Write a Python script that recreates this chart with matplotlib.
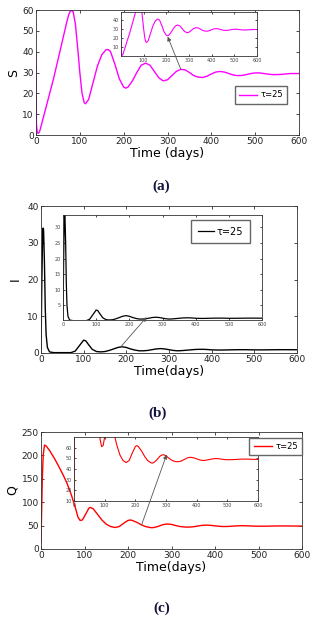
import matplotlib
matplotlib.use('Agg')
import numpy as np
import matplotlib.pyplot as plt
from matplotlib.patches import ConnectionPatch

# data
t_S = [0, 0.5, 1, 3, 5, 8, 10, 20, 30, 40, 50, 60, 70, 75, 80, 85, 90, 95, 100, 105, 110, 113,
       120, 130, 140, 150, 160, 165, 170, 180, 190, 200, 205, 210, 220, 230, 240, 250, 260, 270,
       280, 290, 300, 310, 320, 330, 340, 350, 360, 370, 380, 390, 400, 410, 420, 430, 440, 450,
       460, 470, 480, 490, 500, 510, 520, 530, 540, 550, 560, 570, 580, 590, 600]
S = [40, 20, 5, 1.2, 0.8, 1.5, 3, 11, 19, 27, 36, 45, 54, 58, 60, 59, 53, 42, 30, 20, 15.5, 15,
     17, 25, 33, 38.5, 41, 41, 40, 34, 27, 23, 22.5, 23, 26, 30, 33.5, 34.5, 33.5, 30.5,
     27.5, 26, 26.5, 28.5, 30.5, 31.5, 31.3, 30, 28.5, 27.8, 27.6, 28.2, 29.3, 30.2, 30.5, 30.2,
     29.5, 28.8, 28.5, 28.6, 29, 29.5, 29.8, 29.8, 29.5, 29.2, 29, 29, 29.1, 29.3, 29.5, 29.5, 29.5]

t_I = [0, 2, 4, 5, 6, 8, 10, 12, 15, 20, 30, 50, 70, 80, 90, 100, 105, 110, 120, 130, 140, 150,
       160, 170, 180, 190, 200, 210, 220, 230, 240, 250, 260, 270, 280, 290, 300, 310, 320, 330,
       340, 350, 360, 370, 380, 390, 400, 420, 440, 460, 480, 500, 520, 540, 560, 580, 600]
I = [1, 20, 33, 34, 33.5, 25, 12, 5, 1.5, 0.3, 0.1, 0.1, 0.1, 0.5, 2, 3.5, 3.3, 2.5, 1, 0.4, 0.3, 0.4,
     0.7, 1.1, 1.5, 1.7, 1.5, 1.1, 0.8, 0.6, 0.6, 0.7, 0.9, 1.1, 1.2, 1.1, 0.9, 0.7, 0.6, 0.65,
     0.75, 0.85, 0.95, 1.0, 1.0, 0.95, 0.85, 0.8, 0.85, 0.9, 0.9, 0.85, 0.85, 0.88, 0.9, 0.9, 0.88]

t_Q = [0, 1, 3, 5, 8, 12, 20, 30, 40, 50, 60, 70, 80, 85, 90, 95, 100, 110, 113, 120, 130, 140,
       150, 160, 170, 180, 190, 200, 205, 210, 220, 230, 240, 250, 255, 260, 270, 280, 290, 300,
       310, 320, 330, 340, 350, 360, 370, 380, 390, 400, 410, 420, 430, 440, 450, 460, 470, 480,
       490, 500, 520, 540, 560, 580, 600]
Q = [15, 60, 150, 200, 222, 220, 210, 195, 178, 160, 140, 115, 85, 68, 61, 62, 70, 87, 89, 86, 74, 62,
     53, 48, 46, 48, 55, 61, 62, 61, 57, 52, 48, 46, 45.5, 46, 48.5, 52, 53.5, 52.5,
     50, 48, 47, 46.8, 47.5, 49, 50.5, 51, 50.5, 49.5, 48.5, 48, 48.2, 48.8, 49.4, 49.8, 49.7, 49.3,
     48.9, 48.7, 48.8, 49.2, 49.3, 49.1, 49]

xticks = [0, 100, 200, 300, 400, 500, 600]

W, H = 323, 623
fig = plt.figure(figsize=(W/100, H/100), dpi=100)

def box(l, r, t, b):
    return [l/W, 1 - b/H, (r-l)/W, (b-t)/H]

def style(ax, fs):
    ax.tick_params(direction='in', top=True, right=True, labelsize=fs, length=2, width=0.5, pad=1.5,
                   labelcolor='#222222')
    for s in ax.spines.values():
        s.set_linewidth(0.6)
        s.set_color('#333333')
    ax.set_xlim(0, 600)
    ax.set_xticks(xticks)

def inset_style(ax, yt, zero=True):
    style(ax, 3.5)
    ax.set_yticks(yt)
    ax.tick_params(length=1.5, labelcolor='#444444')
    ax.set_xticks(xticks)
    if not zero:
        ax.set_xticklabels(['' if v == 0 else str(v) for v in xticks])

lab = dict(fontsize=9)
cap = dict(fontsize=11, fontweight='bold', family='Liberation Serif', color='#14143c', ha='center', va='center')
leg = dict(frameon=True, fancybox=False, edgecolor='#666666', borderaxespad=0, framealpha=1)

# (a) S
ax = fig.add_axes(box(36, 299, 10, 135))
style(ax, 6.5)
ax.plot(t_S, S, color='#ff00ff', lw=1.0, label='τ=25')
ax.set_ylim(0, 60)
ax.set_yticks([0, 10, 20, 30, 40, 50, 60])
ax.set_ylabel('S', labelpad=2, **lab)
ax.set_xlabel('Time (days)', labelpad=1, **lab)
ax.legend(loc='upper right', bbox_to_anchor=(0.955, 0.39), fontsize=6, handlelength=2.2,
          handletextpad=0.4, borderpad=0.5, **leg)
axi = fig.add_axes(box(121, 257, 12, 56))
axi.plot(t_S, S, color='#ff00ff', lw=0.8)
axi.set_ylim(0, 49)
inset_style(axi, [10, 20, 30, 40], zero=False)
con = ConnectionPatch(xyA=(330, 31.7), coordsA=ax.transData, xyB=(206, 21.5), coordsB=axi.transData,
                      arrowstyle='-|>', mutation_scale=6, color='#555555', lw=0.6)
fig.add_artist(con)
fig.text(161/W, 1 - 186/H, '(a)', **cap)

# (b) I
bx = fig.add_axes(box(41, 297, 206, 353))
style(bx, 6.5)
bx.plot(t_I, I, color='black', lw=1.0)
bx.set_ylim(0, 40)
bx.set_yticks([0, 10, 20, 30, 40])
bx.set_ylabel('I', labelpad=4, **lab)
bx.set_xlabel('Time(days)', labelpad=1, **lab)
bxi = fig.add_axes(box(63, 262, 215, 320))
bxi.plot(t_I, I, color='black', lw=0.9, label='τ=25')
bxi.set_ylim(0.3, 34)
inset_style(bxi, [5, 10, 15, 20, 25, 30])
bxi.legend(loc='upper right', bbox_to_anchor=(0.94, 0.955), fontsize=7, handlelength=1.6,
           handletextpad=0.3, borderpad=0.7, **leg)
con = ConnectionPatch(xyA=(187, 1.7), coordsA=bx.transData, xyB=(252, 1.2), coordsB=bxi.transData,
                      arrowstyle='-|>', mutation_scale=6, color='#555555', lw=0.6)
fig.add_artist(con)
fig.text(158/W, 1 - 413/H, '(b)', **cap)

# (c) Q
cx = fig.add_axes(box(41, 302, 432, 549))
style(cx, 6.5)
cx.plot(t_Q, Q, color='red', lw=1.0, label='τ=25')
cx.set_ylim(0, 250)
cx.set_yticks([0, 50, 100, 150, 200, 250])
cx.set_ylabel('Q', labelpad=2, **lab)
cx.set_xlabel('Time(days)', labelpad=1, **lab)
cxi = fig.add_axes(box(74, 258, 437, 501))
cxi.plot(t_Q, Q, color='red', lw=0.8)
cxi.set_ylim(10, 70)
inset_style(cxi, [10, 20, 30, 40, 50, 60])
# legend on top of the inset
h, l = cx.get_legend_handles_labels()
lg = fig.legend(h, l, loc='upper right', bbox_to_anchor=(302/W, 1 - 438/H), fontsize=6,
                handlelength=2.2, handletextpad=0.4, borderpad=0.5, **leg)
con = ConnectionPatch(xyA=(231, 51), coordsA=cx.transData, xyB=(302, 53.4), coordsB=cxi.transData,
                      arrowstyle='-|>', mutation_scale=6, color='#555555', lw=0.6)
fig.add_artist(con)
fig.text(162/W, 1 - 608/H, '(c)', **cap)

plt.savefig('out.png', dpi=100)
